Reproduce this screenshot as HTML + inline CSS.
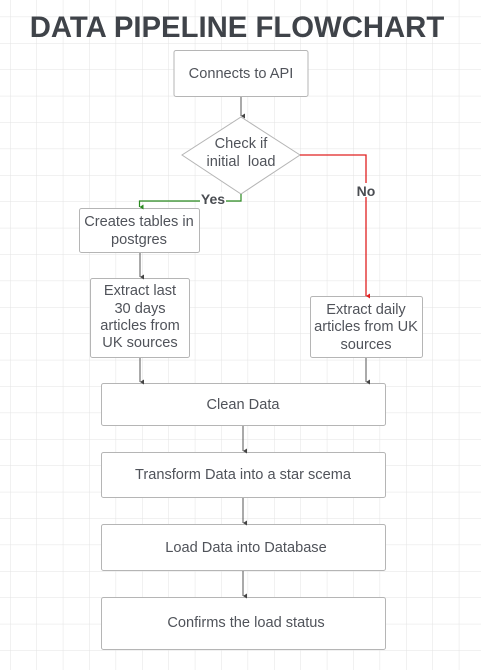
<!DOCTYPE html>
<html><head><meta charset="utf-8"><style>
html,body{margin:0;padding:0;background:#fff;}
svg{display:block;font-family:"Liberation Sans",Arial,sans-serif;}
</style></head><body>
<svg width="481" height="670" viewBox="0 0 481 670" xmlns="http://www.w3.org/2000/svg">
<defs>
<pattern id="g" x="10" y="16.6" width="26.4" height="26.4" patternUnits="userSpaceOnUse">
<path d="M0 0H26.4M0 0V26.4" stroke="#e3e3e3" stroke-width="1" fill="none"/>
</pattern>
<marker id="a" markerWidth="6" markerHeight="6" refX="3" refY="5" orient="auto" markerUnits="userSpaceOnUse"><path d="M0.5 1L3 5L5.5 1Z" fill="#444"/></marker>
<marker id="ar" markerWidth="6" markerHeight="6" refX="3" refY="5" orient="auto" markerUnits="userSpaceOnUse"><path d="M0.5 1L3 5L5.5 1Z" fill="#e02020"/></marker>
<marker id="ag" markerWidth="6" markerHeight="6" refX="3" refY="5" orient="auto" markerUnits="userSpaceOnUse"><path d="M0.5 1L3 5L5.5 1Z" fill="#2a8a20"/></marker>
</defs>
<rect width="481" height="670" fill="#fff"/>
<rect width="481" height="670" fill="url(#g)"/>
<text x="237" y="37" text-anchor="middle" font-size="29.3" font-weight="bold" fill="#3f4349">DATA PIPELINE FLOWCHART</text>

<g fill="#fff" stroke="#b5b5b5" stroke-width="1">
<rect x="174" y="50.5" width="134" height="46" rx="2"/>
<polygon points="241,117 300,155 241,194 182,155"/>
<rect x="79.5" y="208.5" width="120" height="44" rx="2"/>
<rect x="90.5" y="278.5" width="99" height="79" rx="2"/>
<rect x="310.5" y="296.5" width="112" height="61" rx="2"/>
<rect x="101.5" y="383.5" width="284" height="42" rx="2"/>
<rect x="101.5" y="452.5" width="284" height="45" rx="2"/>
<rect x="101.5" y="524.5" width="284" height="46" rx="2"/>
<rect x="101.5" y="597.5" width="284" height="52" rx="2"/>
</g>

<g stroke="#555" stroke-width="1" fill="none">
<path d="M241 97V116" marker-end="url(#a)"/>
<path d="M140 253V277" marker-end="url(#a)"/>
<path d="M140 358V382" marker-end="url(#a)"/>
<path d="M366 358V382" marker-end="url(#a)"/>
<path d="M243 426V451" marker-end="url(#a)"/>
<path d="M243 498V523" marker-end="url(#a)"/>
<path d="M243 571V596" marker-end="url(#a)"/>
</g>
<path d="M241 194V201H139.5V207" stroke="#2a8a20" stroke-width="1.2" fill="none" marker-end="url(#ag)"/>
<path d="M300 155H366V296" stroke="#e02020" stroke-width="1.3" fill="none" marker-end="url(#ar)"/>

<rect x="200" y="192" width="26" height="14" fill="#fff"/>
<text x="213" y="204" text-anchor="middle" font-size="14" font-weight="bold" fill="#4a4d52">Yes</text>
<rect x="354" y="183" width="24" height="14" fill="#fff"/>
<text x="366" y="196" text-anchor="middle" font-size="14" font-weight="bold" fill="#4a4d52">No</text>

<g font-size="14.6" fill="#50535a" text-anchor="middle">
<text x="241" y="78">Connects to API</text>
<text x="241" y="148">Check if</text>
<text x="241" y="166">initial&#160; load</text>
<text x="139" y="226">Creates tables in</text>
<text x="139" y="244">postgres</text>
<text x="140" y="295">Extract last</text>
<text x="140" y="313">30 days</text>
<text x="140" y="330">articles from</text>
<text x="140" y="347">UK sources</text>
<text x="366" y="314">Extract daily</text>
<text x="366" y="331">articles from UK</text>
<text x="366" y="349">sources</text>
<text x="243" y="409">Clean Data</text>
<text x="243" y="479">Transform Data into a star scema</text>
<text x="246" y="552">Load Data into Database</text>
<text x="246" y="627">Confirms the load status</text>
</g>
</svg>
</body></html>
